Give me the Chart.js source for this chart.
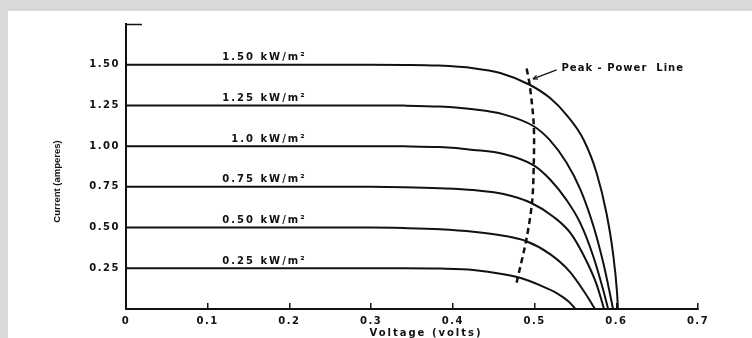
<!DOCTYPE html>
<html>
<head>
<meta charset="utf-8">
<script src="https://cdn.jsdelivr.net/npm/chart.js@4.4.1/dist/chart.umd.min.js"></script>
<style>
  html, body { margin: 0; padding: 0; background: #d9d9d9; }
  #wrap { position: absolute; left: 8px; top: 11px; width: 744px; height: 327px; background: #fff; }
</style>
</head>
<body>
<div id="wrap"><canvas id="iv"></canvas></div>
<script>
// I-V curves, one pair of arrays per irradiance level
const v150 = [0, 0.10, 0.20, 0.30, 0.34, 0.38, 0.425, 0.458, 0.494, 0.519, 0.539, 0.560, 0.576, 0.588, 0.596, 0.601, 0.602]
const i150 = [1.50, 1.50, 1.50, 1.50, 1.499, 1.495, 1.479, 1.449, 1.377, 1.295, 1.192, 1.039, 0.834, 0.588, 0.342, 0.096, 0]

const v125 = [0, 0.10, 0.20, 0.30, 0.34, 0.384, 0.425, 0.462, 0.499, 0.519, 0.539, 0.556, 0.572, 0.584, 0.592, 0.596]
const i125 = [1.25, 1.25, 1.25, 1.25, 1.249, 1.243, 1.226, 1.195, 1.122, 1.035, 0.90, 0.735, 0.51, 0.285, 0.10, 0]

const v100 = [0, 0.10, 0.20, 0.30, 0.34, 0.384, 0.425, 0.462, 0.499, 0.519, 0.539, 0.556, 0.572, 0.584, 0.590]
const i100 = [1.00, 1.00, 1.00, 1.00, 0.999, 0.994, 0.977, 0.952, 0.882, 0.795, 0.670, 0.527, 0.321, 0.117, 0]

const v075 = [0, 0.10, 0.20, 0.30, 0.34, 0.384, 0.425, 0.462, 0.496, 0.523, 0.544, 0.562, 0.576, 0.585]
const i075 = [0.75, 0.75, 0.75, 0.75, 0.748, 0.742, 0.731, 0.706, 0.651, 0.567, 0.466, 0.31, 0.15, 0]

const v050 = [0, 0.10, 0.20, 0.30, 0.34, 0.384, 0.425, 0.462, 0.490, 0.519, 0.543, 0.562, 0.574]
const i050 = [0.50, 0.50, 0.50, 0.50, 0.497, 0.49, 0.475, 0.45, 0.416, 0.337, 0.23, 0.097, 0]

const v025 = [0, 0.10, 0.20, 0.30, 0.34, 0.384, 0.425, 0.462, 0.484, 0.507, 0.527, 0.542, 0.550]
const i025 = [0.25, 0.25, 0.25, 0.25, 0.25, 0.248, 0.240, 0.214, 0.189, 0.145, 0.098, 0.045, 0]

// dashed peak-power line
const peakVolts = [0.478, 0.490, 0.497, 0.499, 0.499, 0.494, 0.490]
const peakAmps = [0.162, 0.428, 0.659, 0.885, 1.131, 1.377, 1.483]

const curveLabels = ["1.50 kW/m²", "1.25 kW/m²", "1.0 kW/m²", "0.75 kW/m²", "0.50 kW/m²", "0.25 kW/m²"]
const curveVolts = [v150, v125, v100, v075, v050, v025]
const curveAmps = [i150, i125, i100, i075, i050, i025]

const font = "DejaVu Sans"
const ink = "#111"

const toPoints = (xs, ys) => xs.map((x, k) => ({ x: x, y: ys[k] }))

const datasets = curveVolts.map((xs, k) => ({
  label: curveLabels[k],
  data: toPoints(xs, curveAmps[k]),
  borderColor: ink,
  borderWidth: 2,
  pointRadius: 0,
  cubicInterpolationMode: "monotone",
  fill: false
}))
datasets.push({
  label: "Peak-Power Line",
  data: toPoints(peakVolts, peakAmps),
  borderColor: ink,
  borderWidth: 2.5,
  borderDash: [6, 4],
  pointRadius: 0,
  tension: 0.3,
  fill: false
})

// canvas letterSpacing gets reset whenever the canvas resizes, so set it again before layout/draw
const spacing = {
  id: "spacing",
  beforeLayout(chart) { chart.ctx.letterSpacing = "1.5px" },
  beforeDraw(chart) { chart.ctx.letterSpacing = "1.5px" }
}

const decorations = {
  id: "decorations",
  afterDraw(chart) {
    const { ctx, chartArea: a } = chart
    const x = chart.scales.x, y = chart.scales.y
    ctx.save()
    ctx.fillStyle = ink
    ctx.strokeStyle = ink

    // little stub at the top of the current axis
    ctx.lineWidth = 1.5
    ctx.beginPath()
    ctx.moveTo(a.left, a.top + 0.5)
    ctx.lineTo(a.left + 16, a.top + 0.5)
    ctx.stroke()

    // irradiance labels above each curve
    ctx.font = "bold 10px " + font
    ctx.letterSpacing = "2px"
    ctx.textAlign = "right"
    ctx.textBaseline = "alphabetic"
    curveLabels.forEach((t, k) => {
      ctx.fillText(t, x.getPixelForValue(0.221), y.getPixelForValue(curveAmps[k][0]) - 4.5)
    })

    // peak power callout
    ctx.letterSpacing = "1px"
    ctx.textAlign = "left"
    ctx.textBaseline = "middle"
    ctx.fillText("Peak - Power  Line", x.getPixelForValue(0.533), y.getPixelForValue(1.475))
    const x1 = x.getPixelForValue(0.527), y1 = y.getPixelForValue(1.468)
    const x2 = x.getPixelForValue(0.498), y2 = y.getPixelForValue(1.413)
    ctx.lineWidth = 1.2
    ctx.beginPath()
    ctx.moveTo(x1, y1)
    ctx.lineTo(x2, y2)
    ctx.stroke()
    const ang = Math.atan2(y2 - y1, x2 - x1)
    ctx.beginPath()
    ctx.moveTo(x2, y2)
    ctx.lineTo(x2 - 5 * Math.cos(ang - 0.4), y2 - 5 * Math.sin(ang - 0.4))
    ctx.moveTo(x2, y2)
    ctx.lineTo(x2 - 5 * Math.cos(ang + 0.4), y2 - 5 * Math.sin(ang + 0.4))
    ctx.stroke()

    // axis titles
    ctx.letterSpacing = "2px"
    ctx.textAlign = "center"
    ctx.fillText("Voltage (volts)", (a.left + a.right) / 2 + 14, a.bottom + 24)
    ctx.letterSpacing = "0px"
    ctx.font = "bold 9.5px 'Liberation Sans'"
    ctx.translate(49, (a.top + a.bottom) / 2 + 15)
    ctx.rotate(-Math.PI / 2)
    ctx.fillText("Current (amperes)", 0, 0)
    ctx.restore()
  }
}

Chart.defaults.font.family = font
Chart.defaults.font.size = 10
Chart.defaults.font.weight = "bold"
Chart.defaults.color = ink

new Chart(document.getElementById("iv"), {
  type: "line",
  data: { datasets: datasets },
  plugins: [spacing, decorations],
  options: {
    responsive: true,
    maintainAspectRatio: false,
    animation: false,
    devicePixelRatio: 1,
    layout: { padding: { top: 13, right: 54, bottom: 0, left: 0 } },
    plugins: {
      legend: { display: false },
      tooltip: { enabled: false }
    },
    scales: {
      x: {
        type: "linear",
        min: 0,
        max: 0.7,
        afterFit: (s) => { s.height = 29 },
        border: { display: true, color: ink, width: 2 },
        grid: { drawOnChartArea: false, drawTicks: true, tickLength: -6, lineWidth: 1.5, color: ink },
        ticks: {
          stepSize: 0.1,
          padding: 12,
          maxRotation: 0,
          callback: (v) => v === 0 ? "0" : v.toFixed(1)
        }
      },
      y: {
        min: 0,
        max: 1.75,
        afterFit: (s) => { s.width = 118 },
        border: { display: true, color: ink, width: 2 },
        grid: { drawOnChartArea: false, drawTicks: false },
        ticks: {
          stepSize: 0.25,
          padding: 6,
          callback: (v) => (v > 0.01 && v < 1.7) ? v.toFixed(2) : ""
        }
      }
    }
  }
})
</script>
</body>
</html>
